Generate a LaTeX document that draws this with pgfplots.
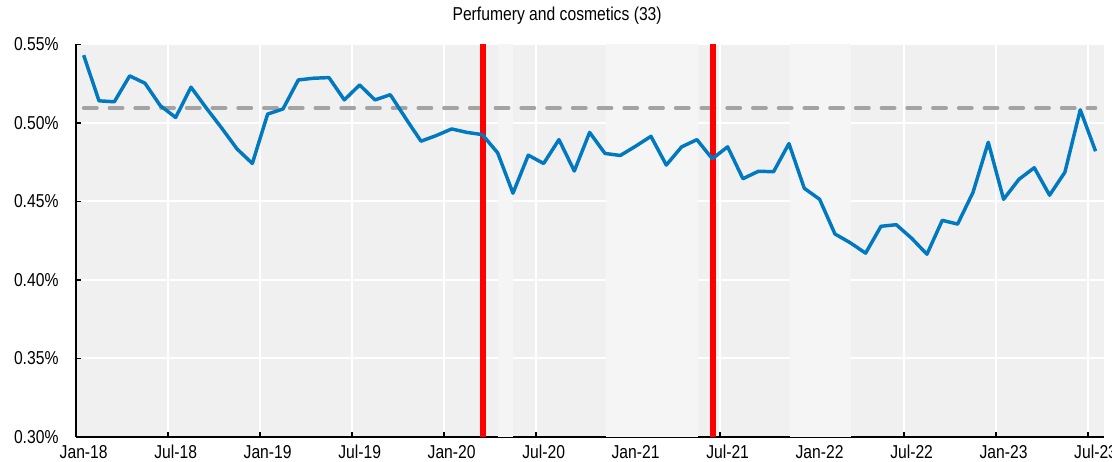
\documentclass[border=0pt]{standalone}
\usepackage{fontspec}
\setmainfont{Liberation Sans}[FakeStretch=0.84]
\usepackage{pgfplots}
\pgfplotsset{compat=1.18}
\usepackage{pgfplotstable}

\definecolor{bgcol}{HTML}{F0F0F0}
\definecolor{bandcol}{HTML}{F5F5F5}
\definecolor{linecol}{HTML}{0079C1}
\definecolor{refcol}{HTML}{A3A3A3}
\definecolor{redcol}{HTML}{FF0000}

% monthly share, Jan-18 .. Jul-23 (plotted mid-month)
\pgfplotstableread{
x y
0.5 0.5432
1.5 0.5141
2.5 0.5135
3.5 0.5300
4.5 0.5253
5.5 0.5110
6.5 0.5035
7.5 0.5228
8.5 0.5095
9.5 0.4968
10.5 0.4835
11.5 0.4742
12.5 0.5057
13.5 0.5089
14.5 0.5274
15.5 0.5285
16.5 0.5289
17.5 0.5147
18.5 0.5242
19.5 0.5147
20.5 0.5180
21.5 0.5030
22.5 0.4884
23.5 0.4920
24.5 0.4962
25.5 0.4940
26.5 0.4926
27.5 0.4810
28.5 0.4553
29.5 0.4795
30.5 0.4742
31.5 0.4894
32.5 0.4694
33.5 0.4940
34.5 0.4806
35.5 0.4793
36.5 0.4852
37.5 0.4915
38.5 0.4732
39.5 0.4848
40.5 0.4894
41.5 0.4772
42.5 0.4848
43.5 0.4645
44.5 0.4692
45.5 0.4690
46.5 0.4869
47.5 0.4584
48.5 0.4514
49.5 0.4293
50.5 0.4237
51.5 0.4171
52.5 0.4342
53.5 0.4352
54.5 0.4266
55.5 0.4164
56.5 0.4380
57.5 0.4356
58.5 0.4557
59.5 0.4877
60.5 0.4514
61.5 0.4641
62.5 0.4715
63.5 0.4540
64.5 0.4687
65.5 0.5084
66.5 0.4820
}\sharedata

\begin{document}
\begin{tikzpicture}
\useasboundingbox (-57pt,-18pt) rectangle (777pt,327.75pt);
\begin{axis}[
    at={(0pt,0pt)}, anchor=south west,
    scale only axis,
    width=771pt, height=294.4pt,
    xmin=0, xmax=67.05,
    ymin=0.30, ymax=0.55,
    axis x line*=bottom,
    axis y line*=left,
    axis line style={black, line width=1.1pt, -},
    axis background/.style={fill=bgcol},
    xtick={0,6,...,66},
    xticklabels={Jan-18,Jul-18,Jan-19,Jul-19,Jan-20,Jul-20,Jan-21,Jul-21,Jan-22,Jul-22,Jan-23,Jul-23},
    ytick={0.30,0.35,0.40,0.45,0.50,0.55},
    yticklabels={0.30\%,0.35\%,0.40\%,0.45\%,0.50\%,0.55\%},
    tick align=inside,
    major tick length=3.75pt,
    tick style={black, line width=0.9pt},
    xmajorgrids, ymajorgrids,
    major grid style={white, line width=1.5pt},
    ticklabel style={font=\fontsize{14}{16}\selectfont},
    xticklabel style={xshift=5.75pt, yshift=-2.5pt},
    yticklabel style={xshift=-9.6pt},
    title={Perfumery and cosmetics (33)},
    title style={at={(0.468,1)}, anchor=center, yshift=15.3pt,
                 font=\fontsize{14}{16}\selectfont},
]
% lighter period bands
\addplot[fill=bandcol, draw=none, forget plot] coordinates {(27.55,0.30) (28.5,0.30) (28.5,0.55) (27.55,0.55)} -- cycle;
\addplot[fill=bandcol, draw=none, forget plot] coordinates {(34.55,0.30) (40.55,0.30) (40.55,0.55) (34.55,0.55)} -- cycle;
\addplot[fill=bandcol, draw=none, forget plot] coordinates {(46.57,0.30) (50.55,0.30) (50.55,0.55) (46.57,0.55)} -- cycle;

% reference level
\addplot[refcol, line width=2.6pt, dash pattern=on 10pt off 9.3pt, line cap=round] coordinates {(0.5,0.5095) (66.5,0.5095)};

% red markers
\addplot[redcol, line width=4.5pt] coordinates {(26.53,0.30) (26.53,0.55)};
\addplot[redcol, line width=4.5pt] coordinates {(41.57,0.30) (41.57,0.55)};

\addplot[linecol, line width=2.6pt, line join=round, mark=none] table[x=x, y=y] {\sharedata};
\end{axis}
\end{tikzpicture}
\end{document}
